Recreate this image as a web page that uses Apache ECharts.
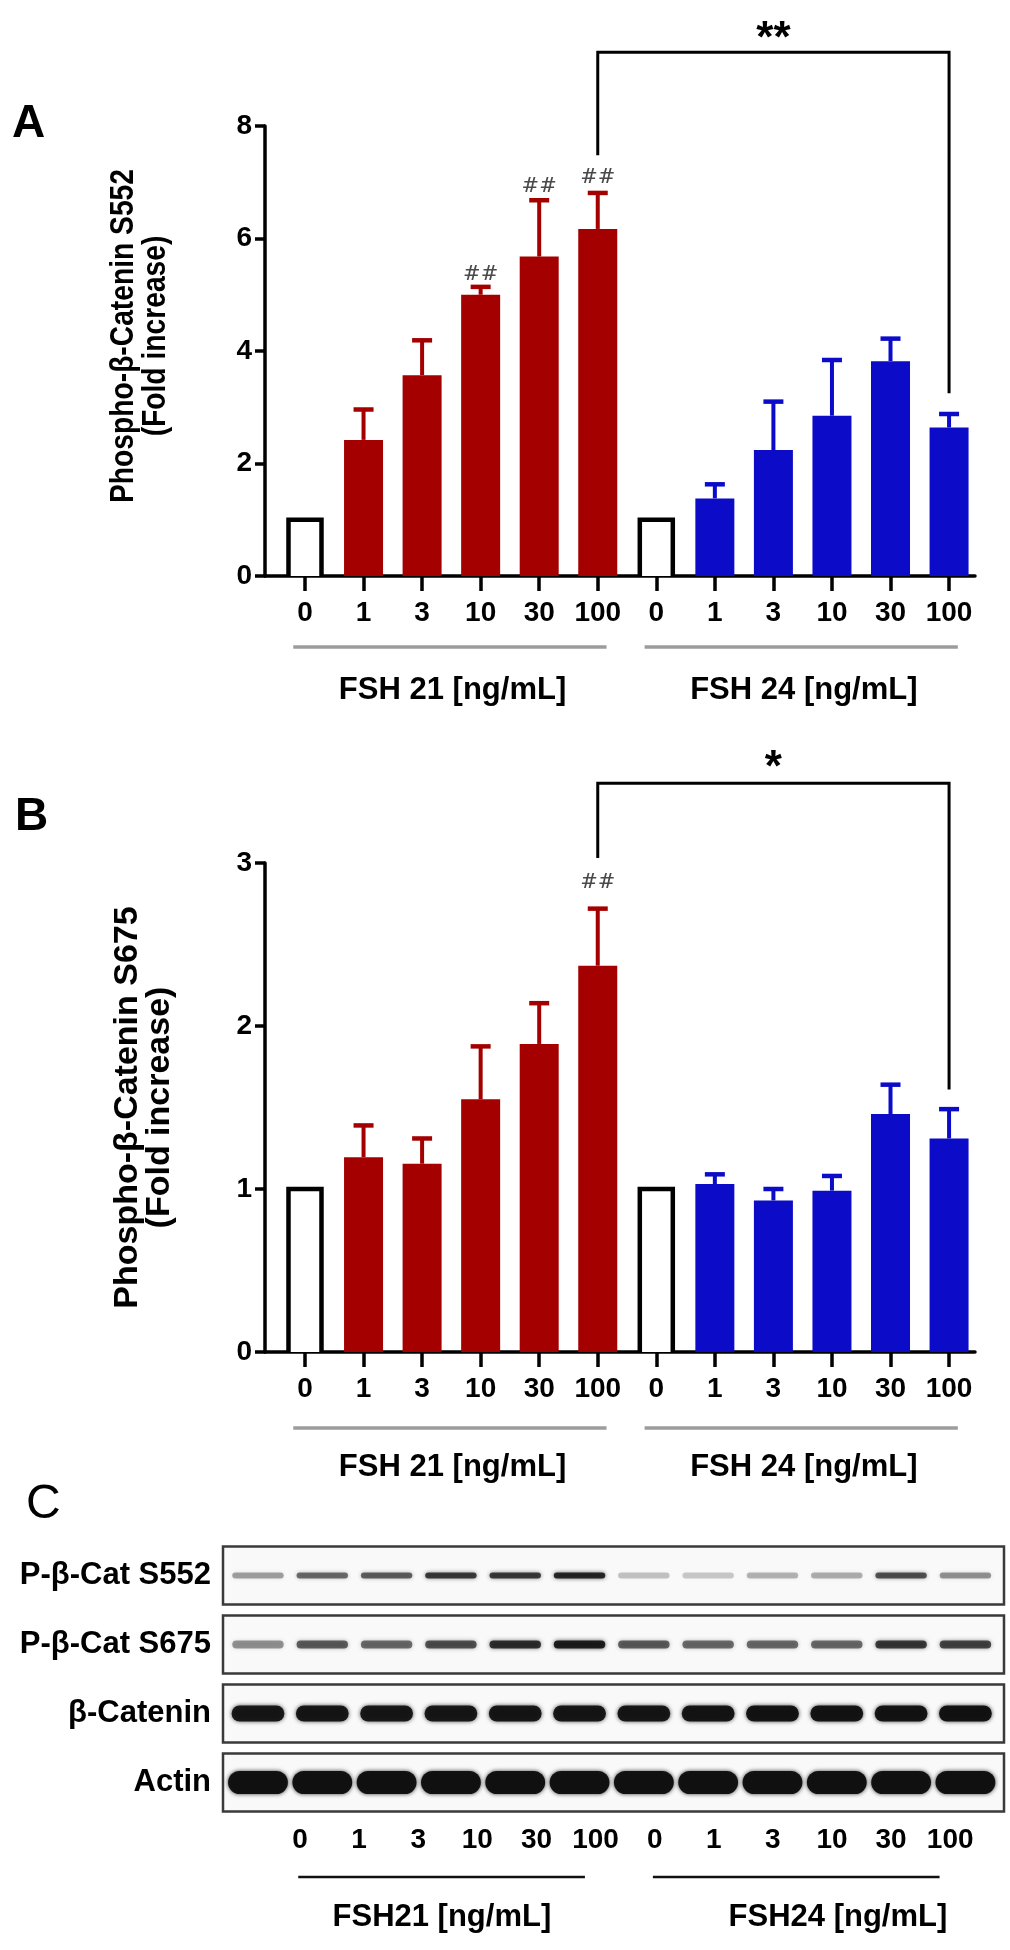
<!DOCTYPE html>
<html><head><meta charset="utf-8">
<script src="https://cdn.jsdelivr.net/npm/echarts@6/dist/echarts.min.js"></script>
<style>html,body{margin:0;padding:0;background:#fff}#c{width:1010px;height:1950px}</style>
</head><body><div id="c"></div>
<script>
// ---------- data ----------
const doseLabels = ['0','1','3','10','30','100','0','1','3','10','30','100'];
const groupNames = ['FSH 21 [ng/mL]', 'FSH 24 [ng/mL]'];
const blotGroupNames = ['FSH21 [ng/mL]', 'FSH24 [ng/mL]'];
const yTitleA = 'Phospho-β-Catenin S552\n(Fold increase)';
const yTitleB = 'Phospho-β-Catenin S675\n(Fold increase)';

// Panel A (S552)
const aMean21 = [1.00, 2.42, 3.57, 5.00, 5.68, 6.17];
const aSem21  = [0, 0.54, 0.62, 0.14, 1.00, 0.64];
const aMean24 = [1.00, 1.38, 2.24, 2.85, 3.82, 2.64];
const aSem24  = [0, 0.25, 0.86, 0.99, 0.40, 0.24];
const aHashIdx = [3, 4, 5];
const aHashVal = [5.36, 6.92, 7.08];
const aBracket = [5, 11, 9.31, 7.48, 3.25];   // left idx, right idx, top, left foot, right foot
const aStar = ['**', 8, 9.71];

// Panel B (S675)
const bMean21 = [1.00, 1.195, 1.155, 1.55, 1.89, 2.37];
const bSem21  = [0, 0.195, 0.155, 0.325, 0.25, 0.35];
const bMean24 = [1.00, 1.03, 0.93, 0.99, 1.46, 1.31];
const bSem24  = [0, 0.06, 0.07, 0.09, 0.18, 0.18];
const bHashIdx = [5];
const bHashVal = [2.88];
const bBracket = [5, 11, 3.49, 3.03, 1.61];
const bStar = ['*', 8, 3.64];

// Panel C (western blot band intensities, 0..1)
const blotRows = ['P-β-Cat S552', 'P-β-Cat S675', 'β-Catenin', 'Actin'];
const bandS552  = [0.35, 0.55, 0.60, 0.75, 0.75, 0.85, 0.22, 0.20, 0.28, 0.30, 0.65, 0.40];
const bandS675  = [0.40, 0.60, 0.55, 0.65, 0.80, 0.90, 0.60, 0.55, 0.55, 0.55, 0.75, 0.70];
const bandBcat  = [0.92, 0.93, 0.92, 0.92, 0.93, 0.93, 0.93, 0.94, 0.95, 0.95, 0.95, 0.96];
const bandActin = [0.98, 0.98, 0.98, 0.98, 0.98, 0.98, 0.98, 0.98, 0.98, 0.98, 0.98, 0.98];

// ---------- styling ----------
const FONT = '"Liberation Sans", Arial, sans-serif';
const RED = '#A40000', BLUE = '#0B0BC8';
const laneIdx = doseLabels.map((_, i) => i);
const half = doseLabels.length / 2;
const groupSpans = [[0, half - 1, 0], [half, doseLabels.length - 1, 1]];

function barData(m21, m24) {
  const out = [];
  m21.forEach((v, i) => { if (i > 0) out.push({ value: [i, v], itemStyle: { color: RED } }); });
  m24.forEach((v, i) => { if (i > 0) out.push({ value: [half + i, v], itemStyle: { color: BLUE } }); });
  return out;
}
function ctrlData(m21, m24) { return [[0, m21[0]], [half, m24[0]]]; }
function errData(m21, s21, m24, s24) {
  const out = [];
  m21.forEach((v, i) => { if (s21[i] > 0) out.push([i, v, s21[i], 0]); });
  m24.forEach((v, i) => { if (s24[i] > 0) out.push([half + i, v, s24[i], 1]); });
  return out;
}
function renderCtrl(params, api) {
  const top = api.coord([api.value(0), api.value(1)]);
  const base = api.coord([api.value(0), 0]);
  const w = 33;
  return { type: 'group', children: [
    { type: 'rect', shape: { x: top[0] - w / 2, y: top[1], width: w, height: base[1] - top[1] }, style: { fill: '#fff' } },
    { type: 'polyline', shape: { points: [[top[0] - w / 2, base[1]], [top[0] - w / 2, top[1]], [top[0] + w / 2, top[1]], [top[0] + w / 2, base[1]]] },
      style: { stroke: '#000', lineWidth: 4.5, fill: null, lineJoin: 'miter' } }
  ]};
}
function renderErr(params, api) {
  const x = api.value(0), m = api.value(1), s = api.value(2), g = api.value(3);
  const p0 = api.coord([x, m]), p1 = api.coord([x, m + s]);
  const c = g === 0 ? RED : BLUE;
  return { type: 'group', children: [
    { type: 'line', shape: { x1: p0[0], y1: p0[1], x2: p1[0], y2: p1[1] }, style: { stroke: c, lineWidth: 4 } },
    { type: 'line', shape: { x1: p1[0] - 10, y1: p1[1], x2: p1[0] + 10, y2: p1[1] }, style: { stroke: c, lineWidth: 4.5 } }
  ]};
}
function renderHash(params, api) {
  const p = api.coord([api.value(0), api.value(1)]);
  return { type: 'text', style: { text: '##', x: p[0], y: p[1], align: 'center', verticalAlign: 'middle',
    fontFamily: '"DejaVu Serif", serif', fontSize: 21, fill: '#4a4a4a' } };
}
function makeBracketRender(star) {
  return function (params, api) {
    const l = api.value(0), r = api.value(1);
    const pl = api.coord([l, api.value(2)]), pr = api.coord([r, api.value(2)]);
    const lf = api.coord([l, api.value(3)]), rf = api.coord([r, api.value(4)]);
    const sp = api.coord([star[1], star[2]]);
    return { type: 'group', children: [
      { type: 'polyline', shape: { points: [lf, pl, pr, rf] }, style: { stroke: '#000', lineWidth: 3, fill: null } },
      { type: 'text', style: { text: star[0], x: sp[0], y: sp[1] + 10, align: 'center', verticalAlign: 'middle',
        fontFamily: FONT, fontWeight: 'bold', fontSize: 44, fill: '#000' } }
    ]};
  };
}
function makeGroupRender(lineOff, labelOff) {
  return function (params, api) {
    const f = api.value(0), l = api.value(1), gi = api.value(2);
    const y0 = api.coord([0, 0])[1];
    const a = api.coord([f - 0.2, 0]), b = api.coord([l + 0.15, 0]);
    const mid = api.coord([(f + l) / 2 + 0.02, 0]);
    return { type: 'group', children: [
      { type: 'line', shape: { x1: a[0], y1: y0 + lineOff, x2: b[0], y2: y0 + lineOff }, style: { stroke: '#9c9c9c', lineWidth: 3.5 } },
      { type: 'text', style: { text: groupNames[gi], x: mid[0], y: y0 + labelOff, align: 'center', verticalAlign: 'middle',
        fontFamily: FONT, fontWeight: 'bold', fontSize: 31, fill: '#000' } }
    ]};
  };
}

function xAxisFor(grid) {
  return { gridIndex: grid, type: 'value', min: -0.683, max: 11.443,
    axisLine: { show: true, onZero: false, lineStyle: { color: '#000', width: 3.5 } },
    axisTick: { show: true, customValues: laneIdx, length: 15, lineStyle: { color: '#000', width: 3.5 } },
    axisLabel: { customValues: laneIdx, formatter: v => doseLabels[Math.round(v)], margin: 23,
      fontSize: 28, fontWeight: 'bold', fontFamily: FONT, color: '#000' },
    splitLine: { show: false } };
}
function yAxisFor(grid, max, interval, title, fs) {
  return { gridIndex: grid, type: 'value', min: 0, max: max, interval: interval,
    name: title, nameLocation: 'middle', nameGap: 89, nameRotate: 90,
    nameTextStyle: { fontSize: fs, fontWeight: 'bold', fontFamily: FONT, color: '#000', lineHeight: 32 },
    axisLine: { show: true, onZero: false, lineStyle: { color: '#000', width: 3.5 } },
    axisTick: { show: true, length: 10, lineStyle: { color: '#000', width: 3.5 } },
    axisLabel: { margin: 13, fontSize: 28, fontWeight: 'bold', fontFamily: FONT, color: '#000' },
    splitLine: { show: false } };
}
function panelSeries(ax, m21, s21, m24, s24, hIdx, hVal, bracket, star, lineOff, labelOff) {
  return [
    { type: 'bar', xAxisIndex: ax, yAxisIndex: ax, barWidth: 39, data: barData(m21, m24), silent: true },
    { type: 'custom', xAxisIndex: ax, yAxisIndex: ax, clip: false, renderItem: renderCtrl, data: ctrlData(m21, m24) },
    { type: 'custom', xAxisIndex: ax, yAxisIndex: ax, clip: false, renderItem: renderErr, data: errData(m21, s21, m24, s24) },
    { type: 'custom', xAxisIndex: ax, yAxisIndex: ax, clip: false, renderItem: renderHash, data: hIdx.map((x, i) => [x, hVal[i]]) },
    { type: 'custom', xAxisIndex: ax, yAxisIndex: ax, clip: false, renderItem: makeBracketRender(star), data: [bracket] },
    { type: 'custom', xAxisIndex: ax, yAxisIndex: ax, clip: false, renderItem: makeGroupRender(lineOff, labelOff), data: groupSpans }
  ];
}

// blot
const bandRows = [bandS552, bandS675, bandBcat, bandActin];
const bandData = [];
bandRows.forEach((row, r) => row.forEach((a, lane) => bandData.push([lane, r, a])));
const bandH = [6, 8, 16, 23];
const bandW = [0.8, 0.8, 0.82, 0.93];
function renderStrip(params, api) {
  const cs = params.coordSys;
  const r = api.value(0);
  const t = api.coord([0, r + 0.08])[1], b = api.coord([0, r + 0.92])[1];
  return { type: 'rect', shape: { x: cs.x, y: Math.min(t, b), width: cs.width, height: Math.abs(b - t) },
    style: { fill: '#f9f9f9', stroke: '#3a3a3a', lineWidth: 2.5 } };
}
function renderBand(params, api) {
  const lane = api.value(0), r = api.value(1), a = api.value(2);
  const c = api.coord([lane, r + 0.5]), c1 = api.coord([lane + 1, r + 0.5]);
  const lw = c1[0] - c[0];
  const h = bandH[r], w = lw * bandW[r];
  return { type: 'rect', shape: { x: c[0] - w / 2, y: c[1] - h / 2, width: w, height: h, r: h / 2 },
    style: { fill: 'rgba(15,15,15,' + a + ')', shadowBlur: 4, shadowColor: 'rgba(0,0,0,' + (a * 0.8) + ')' } };
}
const blotLabelShift = [-0.1, 0.6];
function renderBlotGroups(params, api) {
  const f = api.value(0), l = api.value(1), gi = api.value(2);
  const cs = params.coordSys;
  const yb = cs.y + cs.height;
  const a = api.coord([f - 0.03, 0]), b = api.coord([l - 0.18, 0]);
  const mid = api.coord([(f + l) / 2 + blotLabelShift[gi], 0]);
  return { type: 'group', children: [
    { type: 'line', shape: { x1: a[0], y1: yb + 60, x2: b[0], y2: yb + 60 }, style: { stroke: '#111', lineWidth: 2.5 } },
    { type: 'text', style: { text: blotGroupNames[gi], x: mid[0], y: yb + 100, align: 'center', verticalAlign: 'middle',
      fontFamily: FONT, fontWeight: 'bold', fontSize: 31, fill: '#000' } }
  ]};
}

const yAxisA = yAxisFor(0, 8, 2, '', 34);
yAxisA.name = '';

const chart = echarts.init(document.getElementById('c'), null, { renderer: 'canvas', width: 1010, height: 1950 });
chart.setOption({
  animation: false,
  backgroundColor: '#fff',
  grid: [
    { left: 265, top: 126, width: 710, height: 450 },
    { left: 265, top: 863, width: 710, height: 489 },
    { left: 223, top: 1541, width: 781, height: 276 }
  ],
  xAxis: [
    xAxisFor(0), xAxisFor(1),
    { gridIndex: 2, type: 'value', min: -0.544, max: 11.60, show: false },
    { gridIndex: 2, type: 'value', min: -1.303, max: 11.91, position: 'bottom',
      axisLine: { show: false }, axisTick: { show: false }, splitLine: { show: false },
      axisLabel: { customValues: laneIdx, formatter: v => doseLabels[Math.round(v)], margin: 9,
        fontSize: 28, fontWeight: 'bold', fontFamily: FONT, color: '#000' } }
  ],
  yAxis: [
    yAxisA, yAxisFor(1, 3, 1, yTitleB, 34),
    { gridIndex: 2, type: 'value', min: 0, max: 4, inverse: true,
      axisLine: { show: false }, axisTick: { show: false }, splitLine: { show: false },
      axisLabel: { customValues: [0.5, 1.5, 2.5, 3.5], formatter: v => blotRows[Math.floor(v)], margin: 12,
        fontSize: 31, fontWeight: 'bold', fontFamily: FONT, color: '#000' } }
  ],
  series: [
    ...panelSeries(0, aMean21, aSem21, aMean24, aSem24, aHashIdx, aHashVal, aBracket, aStar, 71, 114),
    ...panelSeries(1, bMean21, bSem21, bMean24, bSem24, bHashIdx, bHashVal, bBracket, bStar, 76, 115),
    { type: 'custom', xAxisIndex: 2, yAxisIndex: 2, clip: false, renderItem: renderStrip, data: blotRows.map((_, i) => [i]) },
    { type: 'custom', xAxisIndex: 2, yAxisIndex: 2, clip: false, renderItem: renderBand, data: bandData },
    { type: 'custom', xAxisIndex: 3, yAxisIndex: 2, clip: false, renderItem: renderBlotGroups, data: groupSpans }
  ],
  graphic: [
    { type: 'text', x: 140, y: 336, rotation: Math.PI / 2, scaleX: 0.83,
      style: { text: yTitleA, fontSize: 34, fontWeight: 'bold', fontFamily: FONT, fill: '#000', lineHeight: 32,
        align: 'center', verticalAlign: 'middle' } },
    { type: 'text', x: 12, y: 124, style: { text: 'A', fontSize: 46, fontWeight: 'bold', fontFamily: FONT, fill: '#000', verticalAlign: 'middle' } },
    { type: 'text', x: 15, y: 817, style: { text: 'B', fontSize: 46, fontWeight: 'bold', fontFamily: FONT, fill: '#000', verticalAlign: 'middle' } },
    { type: 'text', x: 26, y: 1505, style: { text: 'C', fontSize: 48, fontWeight: 'normal', fontFamily: FONT, fill: '#000', verticalAlign: 'middle' } }
  ]
});
</script></body></html>
